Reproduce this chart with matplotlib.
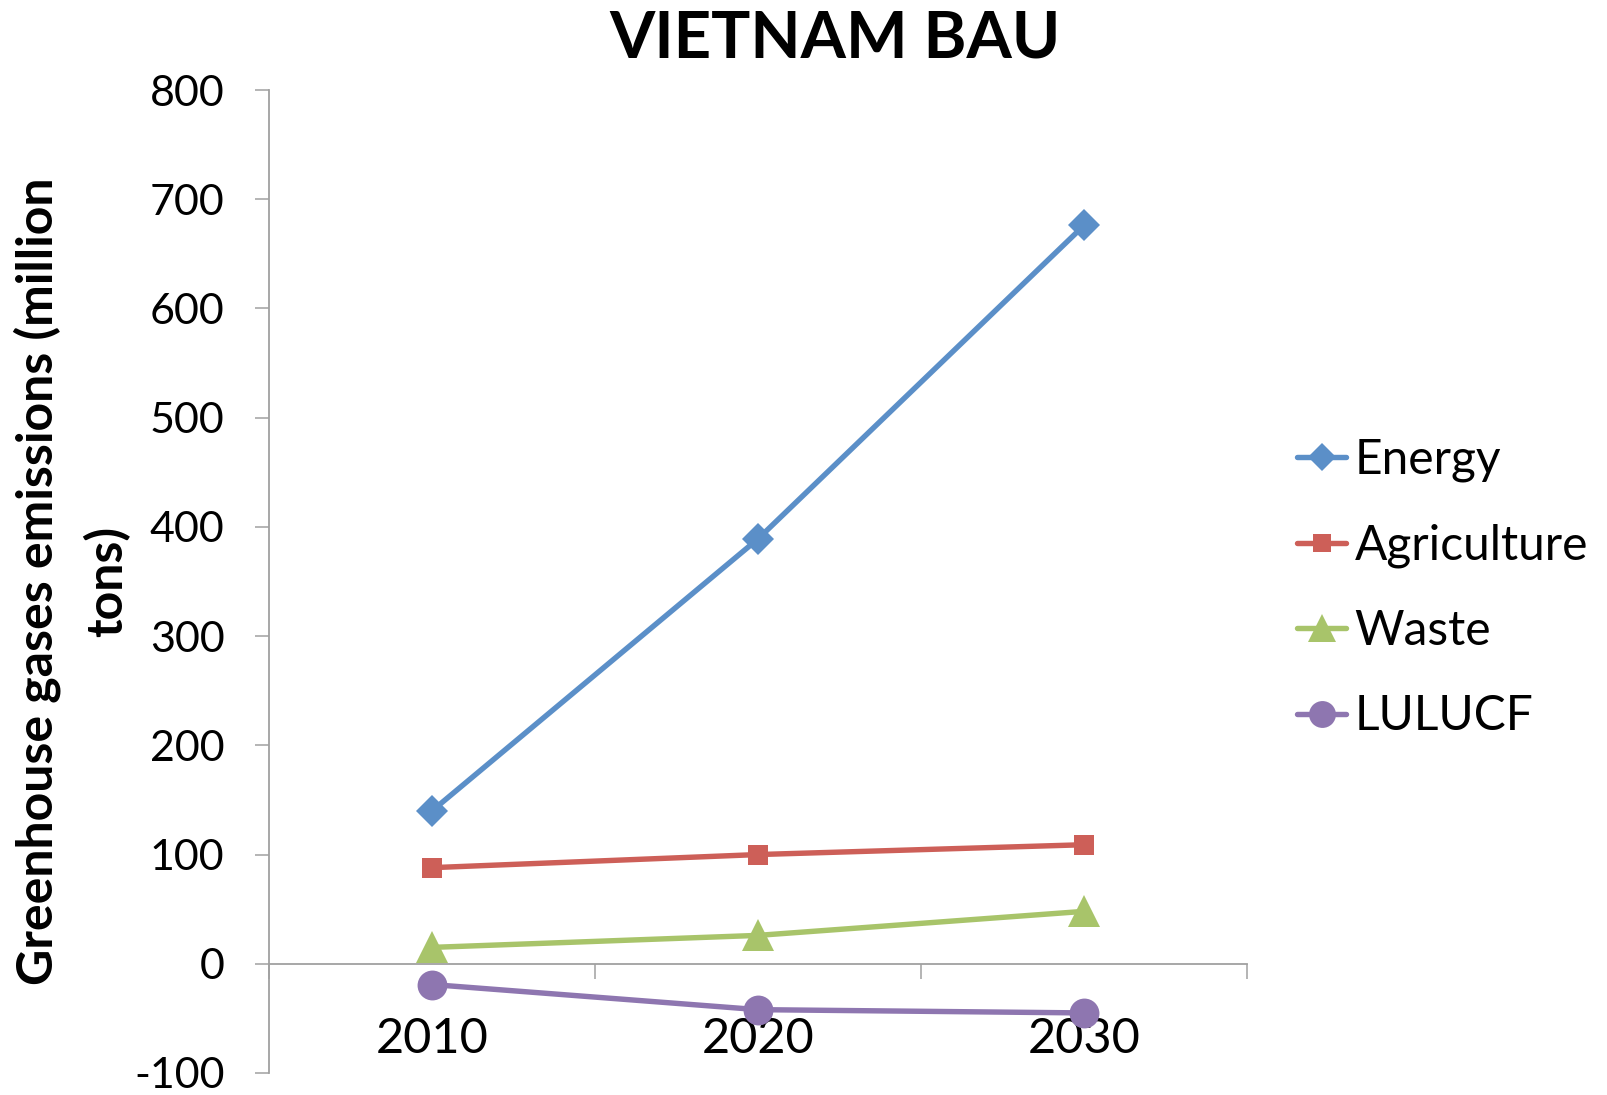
import matplotlib
matplotlib.use("Agg")
import matplotlib.pyplot as plt
from matplotlib.ticker import FixedLocator, NullFormatter, FixedFormatter

# ---- data ----
years = ["2010", "2020", "2030"]
energy = [140, 389, 676]
agriculture = [88, 100, 109]
waste = [15, 26, 48]
lulucf = [-19, -42, -45]
series_names = ["Energy", "Agriculture", "Waste", "LULUCF"]
y_ticks = [-100, 0, 100, 200, 300, 400, 500, 600, 700, 800]

colors = ["#5B8FC8", "#CD5F58", "#A8C46A", "#8E76B0"]
markers = ["D", "s", "^", "o"]
msizes = [16, 15, 23, 21.5]

FONT = "Lato"
plt.rcParams["font.family"] = [FONT, "DejaVu Sans"]

fig = plt.figure(figsize=(16.08, 10.95), dpi=100)
ax = fig.add_axes([269/1608, 1 - 1073/1095, (1247 - 269)/1608, (1073 - 90)/1095])

x = [1, 2, 3]
for vals, name, c, m, ms in zip([energy, agriculture, waste, lulucf], series_names, colors, markers, msizes):
    ax.plot(x, vals, color=c, lw=3.9, marker=m, markersize=ms, markeredgewidth=0,
            label=name, solid_capstyle="round", clip_on=False, zorder=3)

ax.set_xlim(0.5, 3.5)
ax.set_ylim(-100, 800)

for s in ["top", "right"]:
    ax.spines[s].set_visible(False)
axis_col = "#A0A0A0"
ax.spines["left"].set_color(axis_col)
ax.spines["left"].set_linewidth(1.3)
ax.spines["bottom"].set_color(axis_col)
ax.spines["bottom"].set_linewidth(1.3)
ax.spines["bottom"].set_position(("data", 0))

ax.set_yticks(y_ticks)
ax.set_yticklabels([str(v) for v in y_ticks])
ax.tick_params(axis="y", direction="out", length=10, width=1.1, color=axis_col,
               labelsize=31, pad=22)

ax.xaxis.set_major_locator(FixedLocator([0.5, 1.5, 2.5, 3.5]))
ax.xaxis.set_major_formatter(NullFormatter())
ax.xaxis.set_minor_locator(FixedLocator(x))
ax.xaxis.set_minor_formatter(FixedFormatter(years))
ax.tick_params(axis="x", which="major", direction="out", length=11, width=1.1, color=axis_col)
ax.tick_params(axis="x", which="minor", length=0, labelsize=35, pad=38)

fig.text(835/1608, 1 - 57/1095, "VIETNAM BAU", ha="center", va="baseline",
         fontsize=47, fontweight="bold")

fig.text(37/1608, 1 - 581/1095, "Greenhouse gases emissions (million", rotation=90,
         ha="center", va="center", fontsize=36, fontweight="bold")
fig.text(107/1608, 1 - 581/1095, "tons)", rotation=90,
         ha="center", va="center", fontsize=36, fontweight="bold")

leg = ax.legend(loc="center left", bbox_to_anchor=(1297/1608, 1 - 588/1095),
                bbox_transform=fig.transFigure, frameon=False, fontsize=34.5,
                handlelength=1.03, handletextpad=0.17, labelspacing=0.86,
                borderpad=0, borderaxespad=0, markerscale=0.9)

fig.savefig("out.png", dpi=100)
